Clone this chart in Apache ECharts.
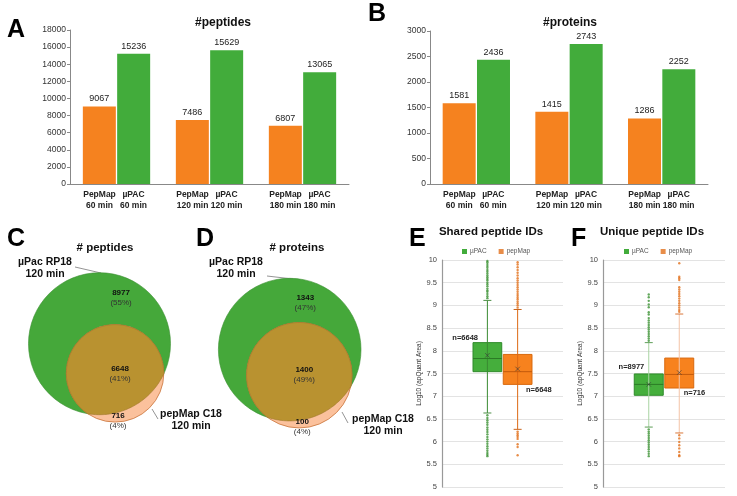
<!DOCTYPE html>
<html><head><meta charset="utf-8">
<script src="https://cdn.jsdelivr.net/npm/echarts@6/dist/echarts.min.js"></script>
<style>html,body{margin:0;padding:0;background:#fff}#c{width:737px;height:496px}</style>
</head><body><div id="c"></div>
<script>
// ---------------- data ----------------
const barSeriesNames = ['PepMap', 'µPAC'];
const barCategories = ['60 min', '120 min', '180 min'];
const peptidesPepMap = [9067, 7486, 6807];
const peptidesUPAC = [15236, 15629, 13065];
const proteinsPepMap = [1581, 1415, 1286];
const proteinsUPAC = [2436, 2743, 2252];
const peptideTicks = [0, 18000, 2000];
const proteinTicks = [0, 3000, 500];

// [µPac only, shared, pepMap only]
const vennPeptides = [8977, 6648, 716];
const vennProteins = [1343, 1400, 100];

const boxCategories = ['', 'µPAC', 'pepMap', ''];
// [category index, lower whisker, Q1, median, Q3, upper whisker]
const sharedBoxUPAC = [1, 6.63, 7.54, 7.83, 8.18, 9.11];
const sharedBoxPepMap = [2, 6.27, 7.26, 7.54, 7.92, 8.91];
const uniqueBoxUPAC = [1, 6.32, 7.02, 7.26, 7.49, 8.18];
const uniqueBoxPepMap = [2, 6.19, 7.18, 7.48, 7.84, 8.81];
const sharedMeans = [7.9, 7.6];
const uniqueMeans = [7.26, 7.52];
const sharedN = [6648, 6648];
const uniqueN = [8977, 716];
const sharedOutUPAC = [9.16, 9.2, 9.25, 9.3, 9.33, 9.37, 9.42, 9.46, 9.5, 9.55, 9.58, 9.62, 9.66, 9.7, 9.74, 9.78, 9.83, 9.87, 9.91, 9.95, 9.98,
  6.58, 6.52, 6.47, 6.42, 6.37, 6.31, 6.26, 6.21, 6.16, 6.1, 6.05, 6.0, 5.95, 5.9, 5.85, 5.8, 5.75, 5.71, 5.68];
const sharedOutPepMap = [8.95, 9.0, 9.04, 9.08, 9.13, 9.17, 9.21, 9.25, 9.3, 9.35, 9.4, 9.45, 9.5, 9.55, 9.6, 9.66, 9.72, 9.78, 9.84, 9.9, 9.95,
  6.22, 6.18, 6.14, 6.1, 6.06, 5.94, 5.88, 5.7];
const uniqueOutUPAC = [8.22, 8.27, 8.32, 8.37, 8.42, 8.47, 8.52, 8.57, 8.62, 8.67, 8.72, 8.8, 8.85, 8.96, 9.02, 9.1, 9.18, 9.24,
  6.27, 6.22, 6.18, 6.13, 6.08, 6.03, 5.98, 5.93, 5.88, 5.83, 5.78, 5.73, 5.68];
const uniqueOutPepMap = [8.86, 8.9, 8.95, 9.0, 9.05, 9.1, 9.15, 9.2, 9.25, 9.3, 9.35, 9.4, 9.56, 9.6, 9.63, 9.93,
  6.14, 6.07, 5.99, 5.92, 5.85, 5.77, 5.7, 5.68];

// ---------------- style ----------------
const FONT = 'Liberation Sans, Arial, sans-serif';
const ORANGE = '#F5821F', GREEN = '#42AC3B';
const BOX_FILL = ['#45AE3C', '#F7821E'];
const BOX_STROKE = ['#2F8A2A', '#D8690F'];
const MEDIAN_C = ['#2B7A25', '#C25A0C'];

function barAxes(gridIndex, ticks) {
  return {
    x: {
      type: 'category', gridIndex, data: barCategories,
      axisLine: {lineStyle: {color: '#888'}}, axisTick: {show: false},
      axisLabel: {
        interval: 0, margin: 5,
        formatter: v => `{a|${barSeriesNames[0]}}{b|${barSeriesNames[1]}}\n{a|${v}}{b|${v}}`,
        rich: {
          a: {width: 34, align: 'center', fontWeight: 'bold', fontSize: 8.5, lineHeight: 11, color: '#222', fontFamily: FONT},
          b: {width: 34, align: 'center', fontWeight: 'bold', fontSize: 8.5, lineHeight: 11, color: '#222', fontFamily: FONT}
        }
      }
    },
    y: {
      type: 'value', gridIndex, min: ticks[0], max: ticks[1], interval: ticks[2],
      axisLine: {show: true, lineStyle: {color: '#888'}},
      axisTick: {show: true, length: 3, lineStyle: {color: '#888'}},
      splitLine: {show: false},
      axisLabel: {fontSize: 8.5, color: '#333', margin: 4, fontFamily: FONT, formatter: v => String(v)}
    }
  };
}
function barSeries(gridIndex, data, name, color) {
  return {
    type: 'bar', name, xAxisIndex: gridIndex, yAxisIndex: gridIndex, data,
    barWidth: 33, barGap: '4%',
    itemStyle: {color},
    label: {show: true, position: 'top', distance: 3, fontSize: 9, color: '#222', fontFamily: FONT, formatter: p => String(p.value)},
    silent: true
  };
}

// Venn
function lensArea(d, r1, r2) {
  if (d >= r1 + r2) return 0;
  if (d <= Math.abs(r1 - r2)) return Math.PI * Math.min(r1, r2) ** 2;
  const a1 = r1 * r1 * Math.acos((d * d + r1 * r1 - r2 * r2) / (2 * d * r1));
  const a2 = r2 * r2 * Math.acos((d * d + r2 * r2 - r1 * r1) / (2 * d * r2));
  const t = 0.5 * Math.sqrt((-d + r1 + r2) * (d + r1 - r2) * (d - r1 + r2) * (d + r1 + r2));
  return a1 + a2 - t;
}
function arcPoints(c, R, from, to, via, n) {
  const ang = p => Math.atan2(p[1] - c[1], p[0] - c[0]);
  const tA = ang(from), tB = ang(to), tV = ang(via);
  const norm = x => ((x % (2 * Math.PI)) + 2 * Math.PI) % (2 * Math.PI);
  const dpos = norm(tB - tA), dv = norm(tV - tA);
  const delta = dv < dpos ? dpos : -(2 * Math.PI - dpos);
  const pts = [];
  for (let i = 0; i <= n; i++) {
    const t = tA + delta * i / n;
    pts.push([c[0] + R * Math.cos(t), c[1] + R * Math.sin(t)]);
  }
  return pts;
}
function vennRender(angleDeg) {
  return function (params, api) {
    const onlyA = api.value(0), both = api.value(1), onlyB = api.value(2);
    const total = onlyA + both + onlyB;
    const r1 = Math.sqrt((onlyA + both) / Math.PI), r2 = Math.sqrt((onlyB + both) / Math.PI);
    let lo = Math.abs(r1 - r2), hi = r1 + r2;
    for (let i = 0; i < 80; i++) {
      const m = (lo + hi) / 2;
      if (lensArea(m, r1, r2) > both) lo = m; else hi = m;
    }
    const d = (lo + hi) / 2, th = angleDeg * Math.PI / 180;
    const c1 = api.coord([0, 0]);
    const c2 = api.coord([d * Math.cos(th), d * Math.sin(th)]);
    const R1 = api.size([r1, 0])[0], R2 = api.size([r2, 0])[0];
    const D = Math.hypot(c2[0] - c1[0], c2[1] - c1[1]);
    const u = [(c2[0] - c1[0]) / D, (c2[1] - c1[1]) / D];
    const a = (D * D + R1 * R1 - R2 * R2) / (2 * D);
    const h = Math.sqrt(Math.max(0, R1 * R1 - a * a));
    const P = [c1[0] + a * u[0], c1[1] + a * u[1]];
    const pA = [P[0] - h * u[1], P[1] + h * u[0]];
    const pB = [P[0] + h * u[1], P[1] - h * u[0]];
    const via1 = [c1[0] + R1 * u[0], c1[1] + R1 * u[1]];
    const via2 = [c2[0] - R2 * u[0], c2[1] - R2 * u[1]];
    const lens = arcPoints(c1, R1, pA, pB, via1, 60).concat(arcPoints(c2, R2, pB, pA, via2, 80));
    const pct = v => '(' + Math.round(v / total * 100) + '%)';
    const lbl = (x, y, n, p) => ({
      type: 'text', x, y,
      style: {
        text: `{n|${n}}\n{p|${p}}`, align: 'center', verticalAlign: 'middle',
        rich: {
          n: {fontSize: 8, fontWeight: 'bold', fill: '#111', fontFamily: FONT, lineHeight: 10, align: 'center'},
          p: {fontSize: 8, fill: '#333', fontFamily: FONT, lineHeight: 10, align: 'center'}
        }
      }
    });
    return {
      type: 'group', children: [
        {type: 'circle', shape: {cx: c1[0], cy: c1[1], r: R1}, style: {fill: '#45A83A', stroke: '#3A8F30', lineWidth: 0.6}},
        {type: 'circle', shape: {cx: c2[0], cy: c2[1], r: R2}, style: {fill: '#FBC19C', stroke: '#C9733A', lineWidth: 0.8}},
        {type: 'polygon', shape: {points: lens}, style: {fill: '#B99230', stroke: '#A0772A', lineWidth: 0.6}},
        lbl(c2[0] + 6, c1[1] - 0.65 * R1, onlyA, pct(onlyA)),
        lbl(c2[0] + 5, c2[1], both, pct(both)),
        lbl(c2[0] + 3, c2[1] + R2 - 1, onlyB, pct(onlyB))
      ]
    };
  };
}

// Box
function boxRender(nList, whiskerCols, capCols, nLayout) {
  return function (params, api) {
    const i = params.dataIndex;
    const cat = api.value(0);
    const pLo = api.coord([cat, api.value(1)]), pQ1 = api.coord([cat, api.value(2)]);
    const pMed = api.coord([cat, api.value(3)]), pQ3 = api.coord([cat, api.value(4)]);
    const pHi = api.coord([cat, api.value(5)]);
    const bw = api.size([1, 0])[0] * 0.95, x = pQ1[0], cw = 8;
    const left = x - bw / 2, right = x + bw / 2;
    const nl = nLayout[i];
    const txt = i === 0
      ? {x: left + nl[0], y: pQ3[1] + nl[1], align: 'right'}
      : {x: right + nl[0], y: pQ1[1] + nl[1], align: 'left'};
    return {
      type: 'group', children: [
        {type: 'rect', shape: {x: left, y: pQ3[1], width: bw, height: pQ1[1] - pQ3[1]}, style: {fill: BOX_FILL[i], stroke: BOX_STROKE[i], lineWidth: 1}},
        {type: 'line', shape: {x1: x, y1: pHi[1], x2: x, y2: pLo[1]}, style: {stroke: whiskerCols[i], lineWidth: 1}},
        {type: 'line', shape: {x1: left, y1: pMed[1], x2: right, y2: pMed[1]}, style: {stroke: MEDIAN_C[i], lineWidth: 1}},
        {type: 'line', shape: {x1: x - cw / 2, y1: pHi[1], x2: x + cw / 2, y2: pHi[1]}, style: {stroke: capCols[i], lineWidth: 1}},
        {type: 'line', shape: {x1: x - cw / 2, y1: pLo[1], x2: x + cw / 2, y2: pLo[1]}, style: {stroke: capCols[i], lineWidth: 1}},
        {type: 'text', x: txt.x, y: txt.y, style: {text: 'n=' + nList[i], align: txt.align, verticalAlign: 'middle', fontSize: 7.5, fontWeight: 'bold', fill: '#222', fontFamily: FONT}}
      ]
    };
  };
}
function boxAxes(gridIndex) {
  return {
    x: {type: 'category', gridIndex, data: boxCategories, axisLine: {show: false}, axisTick: {show: false}, axisLabel: {show: false}},
    y: {
      type: 'value', gridIndex, min: 5, max: 10, interval: 0.5,
      name: 'Log10 (apQuant Area)', nameLocation: 'middle', nameGap: 17,
      nameTextStyle: {fontSize: 6.5, color: '#333', fontFamily: FONT},
      axisLine: {show: true, lineStyle: {color: '#999', width: 1.2}},
      axisTick: {show: false},
      splitLine: {show: true, lineStyle: {color: '#E3E3E3', width: 1}},
      axisLabel: {fontSize: 7.5, color: '#444', margin: 5, fontFamily: FONT, formatter: v => String(v)}
    }
  };
}
function outlierSeries(gridIndex, name, vals, color, cat) {
  return {type: 'scatter', name, xAxisIndex: gridIndex, yAxisIndex: gridIndex, data: vals.map(v => [cat, v]),
    symbol: 'circle', symbolSize: 2.4, itemStyle: {color}, silent: true, z: 3};
}
function meanSeries(gridIndex, means) {
  return {type: 'scatter', xAxisIndex: gridIndex, yAxisIndex: gridIndex, data: means.map((v, i) => [i + 1, v]),
    symbol: 'path://M0,0L10,10M10,0L0,10', symbolSize: 4.5,
    itemStyle: {color: 'none', borderColor: '#3A3A3A', borderWidth: 0.8}, silent: true, z: 5};
}

const A = barAxes(0, peptideTicks), B = barAxes(1, proteinTicks);
const E = boxAxes(4), F = boxAxes(5);

// Venn grids
const vennC = {cx: 99.5, cy: 343.7, R: 71, half: 110};
const vennD = {cx: 289.7, cy: 349.6, R: 71.3, half: 110};
function vennGrid(v) { return {left: v.cx - v.half, top: v.cy - v.half, width: 2 * v.half, height: 2 * v.half, outerBoundsMode: 'none'}; }
function vennAxes(gridIndex, v, counts) {
  const r1 = Math.sqrt((counts[0] + counts[1]) / Math.PI);
  const ext = v.half * r1 / v.R;
  return {
    x: {type: 'value', gridIndex, min: -ext, max: ext, show: false},
    y: {type: 'value', gridIndex, min: -ext, max: ext, show: false}
  };
}
const C = vennAxes(2, vennC, vennPeptides), Dx = vennAxes(3, vennD, vennProteins);

function txt(x, y, text, size, weight, align, color) {
  return {type: 'text', x, y, silent: true, style: {text, fontSize: size, fontWeight: weight || 'normal', fontFamily: FONT,
    align: align || 'center', verticalAlign: 'middle', fill: color || '#111', lineHeight: size * 1.15}};
}
function ln(x1, y1, x2, y2) {
  return {type: 'line', silent: true, shape: {x1, y1, x2, y2}, style: {stroke: '#666', lineWidth: 0.7}};
}

const option = {
  animation: false,
  backgroundColor: '#fff',
  grid: [
    {left: 70, top: 30, width: 279, height: 154, outerBoundsMode: 'none'},
    {left: 430, top: 31, width: 278, height: 153, outerBoundsMode: 'none'},
    vennGrid(vennC), vennGrid(vennD),
    {left: 442, top: 260, width: 121, height: 227, outerBoundsMode: 'none'},
    {left: 603, top: 260, width: 122, height: 227, outerBoundsMode: 'none'}
  ],
  xAxis: [A.x, B.x, C.x, Dx.x, E.x, F.x],
  yAxis: [A.y, B.y, C.y, Dx.y, E.y, F.y],
  legend: [
    {left: 457, top: 243, data: ['µPAC', 'pepMap'], icon: 'rect', itemWidth: 5, itemHeight: 5, itemGap: 12,
      textStyle: {fontSize: 6.5, color: '#555', fontFamily: FONT, padding: [0, 0, 0, -2]}, selectedMode: false},
    {left: 619, top: 243, data: ['µPAC', 'pepMap'], icon: 'rect', itemWidth: 5, itemHeight: 5, itemGap: 12,
      textStyle: {fontSize: 6.5, color: '#555', fontFamily: FONT, padding: [0, 0, 0, -2]}, selectedMode: false}
  ],
  series: [
    barSeries(0, peptidesPepMap, barSeriesNames[0], ORANGE),
    barSeries(0, peptidesUPAC, barSeriesNames[1], GREEN),
    barSeries(1, proteinsPepMap, barSeriesNames[0], ORANGE),
    barSeries(1, proteinsUPAC, barSeriesNames[1], GREEN),
    {type: 'custom', xAxisIndex: 2, yAxisIndex: 2, data: [vennPeptides], renderItem: vennRender(-62.3), silent: true},
    {type: 'custom', xAxisIndex: 3, yAxisIndex: 3, data: [vennProteins], renderItem: vennRender(-69.5), silent: true},
    outlierSeries(4, 'µPAC', sharedOutUPAC, '#3C9234', 1),
    outlierSeries(4, 'pepMap', sharedOutPepMap, '#E2711C', 2),
    {type: 'custom', xAxisIndex: 4, yAxisIndex: 4, data: [sharedBoxUPAC, sharedBoxPepMap], z: 2, silent: true,
      renderItem: boxRender(sharedN, ['#3A8A32', '#DD6A14'], ['#4D8F46', '#C9651E'], [[5, -5], [-6, 6]])},
    meanSeries(4, sharedMeans),
    outlierSeries(5, 'µPAC', uniqueOutUPAC, '#3C9234', 1),
    outlierSeries(5, 'pepMap', uniqueOutPepMap, '#E2711C', 2),
    {type: 'custom', xAxisIndex: 5, yAxisIndex: 5, data: [uniqueBoxUPAC, uniqueBoxPepMap], z: 2, silent: true,
      renderItem: boxRender(uniqueN, ['#A9D3A2', '#F4C3A6'], ['#5E9E58', '#D9773A'], [[10, -7], [-10, 5]])},
    meanSeries(5, uniqueMeans)
  ],
  graphic: [
    txt(7, 30, 'A', 25, 'bold', 'left', '#000'),
    txt(368, 14, 'B', 25, 'bold', 'left', '#000'),
    txt(7, 239, 'C', 25, 'bold', 'left', '#000'),
    txt(196, 239, 'D', 25, 'bold', 'left', '#000'),
    txt(409, 239, 'E', 25, 'bold', 'left', '#000'),
    txt(571, 239, 'F', 25, 'bold', 'left', '#000'),
    txt(223, 23, '#peptides', 12, 'bold'),
    txt(570, 23, '#proteins', 12, 'bold'),
    txt(105, 248, '# peptides', 11.5, 'bold'),
    txt(297, 248, '# proteins', 11.5, 'bold'),
    txt(45, 262, 'µPac RP18', 10.5, 'bold'),
    txt(45, 274, '120 min', 10.5, 'bold'),
    ln(75, 267, 101, 273),
    txt(191, 414, 'pepMap C18', 10.5, 'bold'),
    txt(191, 426, '120 min', 10.5, 'bold'),
    ln(152, 409, 158, 419),
    txt(236, 262, 'µPac RP18', 10.5, 'bold'),
    txt(236, 274, '120 min', 10.5, 'bold'),
    ln(267, 276, 293, 279),
    txt(383, 419, 'pepMap C18', 10.5, 'bold'),
    txt(383, 431, '120 min', 10.5, 'bold'),
    ln(342, 412, 348, 423),
    txt(491, 232, 'Shared peptide IDs', 11.5, 'bold'),
    txt(652, 232, 'Unique peptide IDs', 11.5, 'bold')
  ]
};
const chart = echarts.init(document.getElementById('c'), null, {renderer: 'canvas'});
chart.setOption(option);
</script></body></html>
